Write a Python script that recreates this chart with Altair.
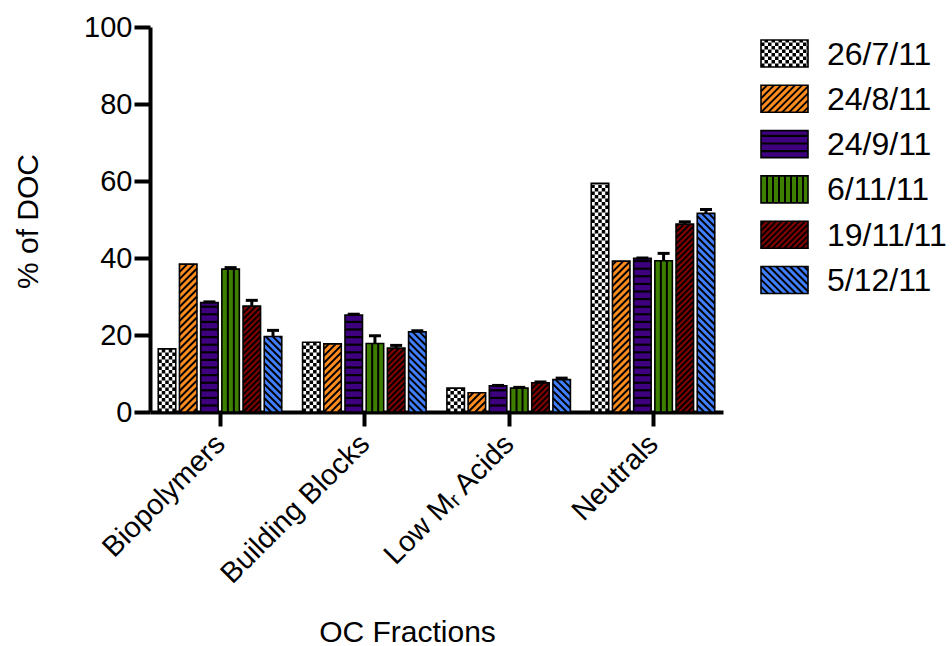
import json

import altair as alt
import numpy as np
import pandas as pd

# ---------------------------------------------------------------- data
fractions = ["Biopolymers", "Building Blocks", "Low Mᵣ Acids", "Neutrals"]
dates = ["26/7/11", "24/8/11", "24/9/11", "6/11/11", "19/11/11", "5/12/11"]

# % of DOC per sampling date, one list per OC fraction
biopolymers = [16.4, 38.4, 28.4, 37.1, 27.5, 19.6]
building_blocks = [18.1, 17.7, 25.2, 17.8, 16.6, 20.8]
low_mr_acids = [6.2, 5.0, 6.8, 6.2, 7.6, 8.4]
neutrals = [59.4, 39.2, 39.9, 39.3, 48.8, 51.6]

# upper error bars
biopolymers_err = [0.0, 0.0, 0.2, 0.4, 1.5, 1.6]
building_blocks_err = [0.0, 0.0, 0.2, 2.0, 0.7, 0.3]
low_mr_acids_err = [0.0, 0.0, 0.1, 0.2, 0.2, 0.4]
neutrals_err = [0.0, 0.0, 0.1, 1.9, 0.6, 1.0]

values = [biopolymers, building_blocks, low_mr_acids, neutrals]
errors = [biopolymers_err, building_blocks_err, low_mr_acids_err, neutrals_err]

# ---------------------------------------------------------------- styling
fill_colors = ["#FFFFFF", "#FF8C1E", "#3F007F", "#3F7F00", "#7F0000", "#4080FF"]
patterns = ["checker", "diag_up", "hstripe", "vstripe", "diag_up_dense", "diag_down"]
FONT = "Liberation Sans"

PLOT_W, PLOT_H = 573, 385
X_DOMAIN = [-0.485, 3.485]
Y_DOMAIN = [0, 100]
PX_X = PLOT_W / (X_DOMAIN[1] - X_DOMAIN[0])   # pixels per x unit
PX_Y = PLOT_H / (Y_DOMAIN[1] - Y_DOMAIN[0])   # pixels per % of DOC

BAR_W_PX, BAR_STEP_PX = 17.5, 21.2
BAR_W = BAR_W_PX / PX_X

# legend placement (pixels from the plot's top-left corner)
LEG_X_PX, LEG_W_PX, LEG_H_PX = 611, 47, 27
LEG_TOP_PX, LEG_STEP_PX, LEG_TEXT_PX = 13, 45.3, 677


def px_x(px):
    return X_DOMAIN[0] + px / PX_X


def px_y(py):
    return (PLOT_H - py) / PX_Y


def pattern_shapes(kind, x0, x1, y0, y1):
    """Black fill pattern inside the box [x0,x1] x [y0,y1] (data units)."""
    w = (x1 - x0) * PX_X
    h = (y1 - y0) * PX_Y

    def X(u):
        return x0 + u / PX_X

    def Y(v):
        return y0 + v / PX_Y

    cells, segs = [], []
    if kind == "checker":
        c = 3.5
        for i in range(int(np.ceil(w / c))):
            for j in range(int(np.ceil(h / c))):
                if (i + j) % 2 == 0:
                    cells.append(dict(x=X(i * c), x2=X(min((i + 1) * c, w)),
                                      y=Y(j * c), y2=Y(min((j + 1) * c, h))))
    elif kind == "hstripe":
        p, t = 7.6, 2.2
        v = p - t
        while v < h:
            cells.append(dict(x=X(0), x2=X(w), y=Y(v), y2=Y(min(v + t, h))))
            v += p
    elif kind == "vstripe":
        p = 6.0
        u = p
        while u < w - 1.5:
            segs.append(dict(x=X(u), x2=X(u), y=Y(0), y2=Y(h), sw=2.0))
            u += p
    elif kind in ("diag_up", "diag_up_dense"):
        s = 7.0 if kind == "diag_up" else 5.8
        for k in range(int(np.floor(-w / s)), int(np.ceil(h / s)) + 1):
            c = k * s
            u0, u1 = max(0.0, -c), min(w, h - c)
            if u1 - u0 > 0.3:
                segs.append(dict(x=X(u0), x2=X(u1), y=Y(u0 + c), y2=Y(u1 + c), sw=1.9))
    elif kind == "diag_down":
        s = 7.0
        for k in range(0, int(np.ceil((h + w) / s)) + 1):
            c = k * s
            u0, u1 = max(0.0, c - h), min(w, c)
            if u1 - u0 > 0.3:
                segs.append(dict(x=X(u0), x2=X(u1), y=Y(c - u0), y2=Y(c - u1), sw=1.9))
    return cells, segs


# ---------------------------------------------------------------- geometry
boxes, cells, segs, whiskers, legend_text = [], [], [], [], []

for i, frac in enumerate(fractions):
    for j, date in enumerate(dates):
        centre = i + (j - 2.5) * BAR_STEP_PX / PX_X
        v, e = values[i][j], errors[i][j]
        x0, x1 = centre - BAR_W / 2, centre + BAR_W / 2
        boxes.append(dict(x=x0, x2=x1, y=0, y2=v, date=date))
        c, s = pattern_shapes(patterns[j], x0, x1, 0, v)
        cells += c
        segs += s
        if e > 0:
            half_cap = 6 / PX_X
            whiskers.append(dict(x=centre, x2=centre, y=v, y2=v + e, sw=3))
            whiskers.append(dict(x=centre - half_cap, x2=centre + half_cap,
                                 y=v + e, y2=v + e, sw=3))

for j, date in enumerate(dates):
    top = LEG_TOP_PX + j * LEG_STEP_PX
    x0, x1 = px_x(LEG_X_PX), px_x(LEG_X_PX + LEG_W_PX)
    y0, y1 = px_y(top + LEG_H_PX), px_y(top)
    boxes.append(dict(x=x0, x2=x1, y=y0, y2=y1, date=date))
    c, s = pattern_shapes(patterns[j], x0, x1, y0, y1)
    cells += c
    segs += s
    legend_text.append(dict(x=px_x(LEG_TEXT_PX), y=px_y(top + LEG_H_PX / 2 + 1), label=date))

boxes = pd.DataFrame(boxes)
cells = pd.DataFrame(cells)
segs = pd.DataFrame(segs)
whiskers = pd.DataFrame(whiskers)
legend_text = pd.DataFrame(legend_text)

# ---------------------------------------------------------------- chart
xs = alt.Scale(domain=X_DOMAIN, nice=False, zero=False)
ys = alt.Scale(domain=Y_DOMAIN, nice=False, zero=False)

label_expr = json.dumps(fractions, ensure_ascii=False) + "[datum.value]"

x_axis = alt.Axis(
    values=[0, 1, 2, 3], labelExpr=label_expr, title="OC Fractions",
    tickSize=14, labelAngle=-45, labelAlign="right", labelBaseline="middle",
    labelPadding=13, labelFlush=False, labelOverlap=False, labelLimit=0,
    labelFontSize=29,
    titleX=257, titleY=220, titleAlign="center", titleBaseline="middle", titleAngle=0,
)
y_axis = alt.Axis(
    values=[0, 20, 40, 60, 80, 100], title="% of DOC",
    tickSize=16, labelPadding=2, labelFlush=False, labelFontSize=29,
    titleX=-122, titleY=194, titleAlign="center", titleBaseline="middle", titleAngle=270,
)

fills = alt.Chart(boxes).mark_rect(strokeWidth=0).encode(
    x=alt.X("x:Q", scale=xs, axis=x_axis),
    x2="x2:Q",
    y=alt.Y("y:Q", scale=ys, axis=y_axis),
    y2="y2:Q",
    color=alt.Color("date:N", scale=alt.Scale(domain=dates, range=fill_colors), legend=None),
)

pattern_cells = alt.Chart(cells).mark_rect(color="black", strokeWidth=0).encode(
    x=alt.X("x:Q", scale=xs), x2="x2:Q", y=alt.Y("y:Q", scale=ys), y2="y2:Q",
)

pattern_lines = alt.Chart(segs).mark_rule(color="black", strokeCap="butt").encode(
    x=alt.X("x:Q", scale=xs), x2="x2:Q", y=alt.Y("y:Q", scale=ys), y2="y2:Q",
    strokeWidth=alt.StrokeWidth("sw:Q", scale=None),
)

borders = alt.Chart(boxes).mark_rect(fillOpacity=0, stroke="black", strokeWidth=1.6).encode(
    x=alt.X("x:Q", scale=xs), x2="x2:Q", y=alt.Y("y:Q", scale=ys), y2="y2:Q",
)

error_bars = alt.Chart(whiskers).mark_rule(color="black", strokeCap="butt").encode(
    x=alt.X("x:Q", scale=xs), x2="x2:Q", y=alt.Y("y:Q", scale=ys), y2="y2:Q",
    strokeWidth=alt.StrokeWidth("sw:Q", scale=None),
)

legend_labels = alt.Chart(legend_text).mark_text(
    font=FONT, fontSize=32, align="left", baseline="middle", color="black",
).encode(
    x=alt.X("x:Q", scale=xs), y=alt.Y("y:Q", scale=ys), text="label:N",
)

chart = (
    alt.layer(fills, pattern_cells, pattern_lines, borders, error_bars, legend_labels)
    .properties(
        width=PLOT_W, height=PLOT_H,
        autosize=alt.AutoSizeParams(type="none"),
        padding={"left": 150, "top": 27, "right": 952 - 150 - PLOT_W,
                 "bottom": 646 - 27 - PLOT_H},
        background="white",
    )
    .configure_view(stroke=None)
    .configure_axis(
        grid=False, domainColor="black", domainWidth=4, tickColor="black",
        tickWidth=4, labelFont=FONT, labelColor="black",
        titleFont=FONT, titleFontSize=30, titleFontWeight="normal", titleColor="black",
    )
)

chart.save("out.html", embed_options={"renderer": "svg", "actions": False})
